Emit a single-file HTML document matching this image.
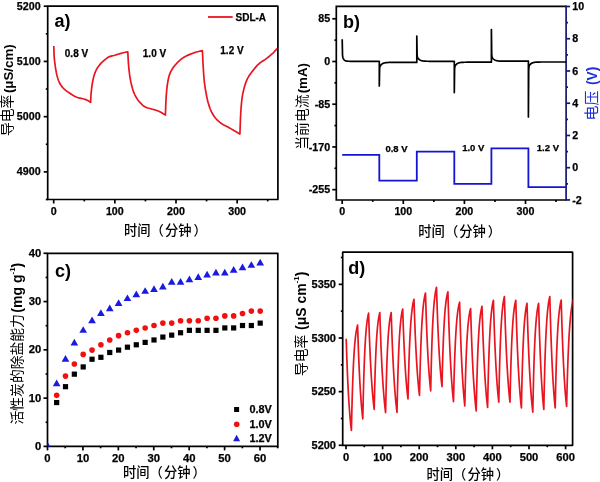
<!DOCTYPE html>
<html><head><meta charset="utf-8"><style>
html,body{margin:0;padding:0;background:#fff;}
svg{display:block;}
.tl{font-family:'Liberation Sans', Arial, sans-serif;font-weight:bold;fill:#000;stroke:#000;stroke-width:0.25px;}
.pl{font-family:'Liberation Sans', Arial, sans-serif;font-weight:bold;font-size:18px;fill:#000;}
.cjk{font-family:'Liberation Sans', 'Noto Sans CJK SC', sans-serif;font-weight:500;}
.b{font-family:'Liberation Sans', Arial, sans-serif;font-weight:bold;}
</style></head><body>
<svg width="600" height="482" viewBox="0 0 600 482">
<rect width="600" height="482" fill="#fff"/>
<rect x="47.7" y="6.2" width="230.2" height="193.3" fill="none" stroke="#000" stroke-width="1.7" stroke-linejoin="round"/>
<line x1="53.7" y1="199.5" x2="53.7" y2="203.5" stroke="#000" stroke-width="1.7"/>
<line x1="114.85" y1="199.5" x2="114.85" y2="203.5" stroke="#000" stroke-width="1.7"/>
<line x1="176" y1="199.5" x2="176" y2="203.5" stroke="#000" stroke-width="1.7"/>
<line x1="237.15" y1="199.5" x2="237.15" y2="203.5" stroke="#000" stroke-width="1.7"/>
<line x1="84.28" y1="199.5" x2="84.28" y2="201.4" stroke="#000" stroke-width="1.7"/>
<line x1="145.43" y1="199.5" x2="145.43" y2="201.4" stroke="#000" stroke-width="1.7"/>
<line x1="206.57" y1="199.5" x2="206.57" y2="201.4" stroke="#000" stroke-width="1.7"/>
<line x1="267.73" y1="199.5" x2="267.73" y2="201.4" stroke="#000" stroke-width="1.7"/>
<text x="53.7" y="214.6" text-anchor="middle" class="tl" style="font-size:10.7px">0</text>
<text x="114.85" y="214.6" text-anchor="middle" class="tl" style="font-size:10.7px">100</text>
<text x="176" y="214.6" text-anchor="middle" class="tl" style="font-size:10.7px">200</text>
<text x="237.15" y="214.6" text-anchor="middle" class="tl" style="font-size:10.7px">300</text>
<line x1="47.7" y1="6.2" x2="43.7" y2="6.2" stroke="#000" stroke-width="1.7"/>
<line x1="47.7" y1="61.43" x2="43.7" y2="61.43" stroke="#000" stroke-width="1.7"/>
<line x1="47.7" y1="116.66" x2="43.7" y2="116.66" stroke="#000" stroke-width="1.7"/>
<line x1="47.7" y1="171.89" x2="43.7" y2="171.89" stroke="#000" stroke-width="1.7"/>
<line x1="47.7" y1="33.82" x2="45.8" y2="33.82" stroke="#000" stroke-width="1.7"/>
<line x1="47.7" y1="89.05" x2="45.8" y2="89.05" stroke="#000" stroke-width="1.7"/>
<line x1="47.7" y1="144.28" x2="45.8" y2="144.28" stroke="#000" stroke-width="1.7"/>
<line x1="47.7" y1="199.5" x2="45.8" y2="199.5" stroke="#000" stroke-width="1.7"/>
<text x="40.6" y="9.8" text-anchor="end" class="tl" style="font-size:10.7px">5200</text>
<text x="40.6" y="65.03" text-anchor="end" class="tl" style="font-size:10.7px">5100</text>
<text x="40.6" y="120.26" text-anchor="end" class="tl" style="font-size:10.7px">5000</text>
<text x="40.6" y="175.49" text-anchor="end" class="tl" style="font-size:10.7px">4900</text>
<path d="M53.8,46 L53.85,47.57 L53.89,49.13 L53.93,50.7 L53.98,52.27 L54.03,53.84 L54.1,55.4 L54.19,56.87 L54.32,58.34 L54.47,59.81 L54.63,61.27 L54.81,62.74 L55,64.2 L55.22,65.89 L55.46,67.59 L55.73,69.28 L56.02,70.97 L56.34,72.64 L56.7,74.3 L57.06,75.79 L57.47,77.28 L57.92,78.77 L58.43,80.22 L58.99,81.64 L59.6,83 L60.17,84.06 L60.82,85.1 L61.55,86.12 L62.34,87.1 L63.16,88.03 L64,88.9 L64.86,89.7 L65.79,90.46 L66.77,91.18 L67.77,91.87 L68.79,92.54 L69.8,93.2 L70.96,93.96 L72.13,94.73 L73.31,95.48 L74.52,96.17 L75.75,96.79 L77,97.3 L77.95,97.6 L78.93,97.86 L79.92,98.09 L80.92,98.31 L81.92,98.54 L82.9,98.8 L83.63,99.01 L84.36,99.22 L85.09,99.43 L85.81,99.66 L86.52,99.92 L87.2,100.2 L87.79,100.5 L88.36,100.85 L88.93,101.23 L89.48,101.62 L90.04,102.02 L90.6,102.4 L90.6,102.4 L90.66,101.13 L90.72,99.87 L90.78,98.6 L90.85,97.33 L90.92,96.06 L91,94.8 L91.13,93.13 L91.28,91.46 L91.46,89.79 L91.65,88.12 L91.87,86.46 L92.1,84.8 L92.32,83.41 L92.56,82.01 L92.83,80.62 L93.12,79.23 L93.45,77.86 L93.8,76.5 L94.13,75.37 L94.49,74.25 L94.9,73.13 L95.33,72.03 L95.8,70.95 L96.3,69.9 L96.76,69.03 L97.27,68.16 L97.81,67.31 L98.39,66.48 L98.99,65.68 L99.6,64.9 L100.23,64.15 L100.9,63.42 L101.6,62.7 L102.32,62.01 L103.05,61.34 L103.8,60.7 L104.71,59.93 L105.63,59.15 L106.58,58.39 L107.56,57.69 L108.56,57.08 L109.6,56.6 L110.39,56.33 L111.21,56.1 L112.05,55.9 L112.91,55.71 L113.76,55.52 L114.6,55.3 L115.7,54.98 L116.8,54.64 L117.9,54.28 L118.99,53.94 L120.09,53.61 L121.2,53.3 L122.29,53.03 L123.39,52.77 L124.49,52.53 L125.6,52.29 L126.7,52.05 L127.8,51.8 L127.8,51.8 L127.9,53.65 L127.99,55.5 L128.08,57.35 L128.17,59.2 L128.28,61.05 L128.4,62.9 L128.56,64.97 L128.74,67.04 L128.95,69.11 L129.18,71.18 L129.43,73.24 L129.7,75.3 L130.01,77.37 L130.36,79.44 L130.75,81.5 L131.19,83.56 L131.67,85.59 L132.2,87.6 L132.65,89.11 L133.16,90.61 L133.72,92.1 L134.34,93.57 L135,95.01 L135.7,96.4 L136.31,97.5 L136.98,98.58 L137.7,99.64 L138.47,100.68 L139.27,101.66 L140.1,102.6 L140.88,103.43 L141.72,104.25 L142.59,105.05 L143.49,105.79 L144.43,106.45 L145.4,107 L146.22,107.37 L147.08,107.7 L147.98,108 L148.89,108.27 L149.8,108.54 L150.7,108.8 L151.58,109.05 L152.47,109.27 L153.36,109.49 L154.25,109.7 L155.13,109.94 L156,110.2 L156.75,110.45 L157.49,110.73 L158.23,111.02 L158.96,111.34 L159.69,111.66 L160.4,112 L161.26,112.45 L162.1,112.93 L162.92,113.44 L163.75,113.97 L164.57,114.49 L165.4,115 L165.4,115 L165.51,112.2 L165.61,109.4 L165.72,106.6 L165.83,103.8 L165.95,101 L166.1,98.2 L166.23,96.15 L166.38,94.09 L166.55,92.04 L166.74,89.98 L166.96,87.94 L167.2,85.9 L167.44,84.11 L167.72,82.32 L168.04,80.53 L168.41,78.75 L168.83,77.01 L169.3,75.3 L169.72,74.07 L170.22,72.85 L170.8,71.64 L171.44,70.46 L172.11,69.31 L172.8,68.2 L173.56,67.09 L174.38,66.02 L175.27,64.97 L176.19,63.95 L177.14,62.96 L178.1,62 L178.92,61.21 L179.77,60.42 L180.65,59.66 L181.54,58.92 L182.46,58.23 L183.4,57.6 L184.51,56.93 L185.67,56.3 L186.86,55.7 L188.06,55.14 L189.28,54.6 L190.5,54.1 L191.5,53.71 L192.5,53.33 L193.52,52.97 L194.54,52.63 L195.57,52.3 L196.6,52 L197.56,51.74 L198.52,51.5 L199.49,51.27 L200.46,51.05 L201.43,50.83 L202.4,50.6 L202.4,50.6 L202.51,52.98 L202.62,55.37 L202.74,57.75 L202.85,60.13 L202.97,62.52 L203.1,64.9 L203.24,67.32 L203.38,69.74 L203.53,72.16 L203.7,74.58 L203.89,76.99 L204.1,79.4 L204.35,81.83 L204.65,84.25 L204.99,86.68 L205.36,89.09 L205.77,91.5 L206.2,93.9 L206.61,96.01 L207.05,98.12 L207.53,100.23 L208.07,102.32 L208.66,104.38 L209.3,106.4 L209.96,108.21 L210.71,110.02 L211.55,111.81 L212.47,113.55 L213.45,115.22 L214.5,116.8 L215.36,117.94 L216.32,119.05 L217.35,120.13 L218.44,121.15 L219.56,122.11 L220.7,123 L221.83,123.77 L223.02,124.47 L224.26,125.14 L225.52,125.78 L226.77,126.43 L228,127.1 L229.04,127.69 L230.07,128.29 L231.1,128.89 L232.13,129.5 L233.17,130.1 L234.2,130.7 L235.15,131.25 L236.1,131.8 L237.05,132.35 L238,132.9 L238.95,133.45 L239.9,134 L239.9,134 L240.03,130.62 L240.14,127.23 L240.26,123.85 L240.39,120.46 L240.53,117.08 L240.7,113.7 L240.85,111.18 L241.02,108.65 L241.22,106.13 L241.45,103.61 L241.71,101.1 L242,98.6 L242.26,96.79 L242.57,94.97 L242.92,93.16 L243.32,91.36 L243.75,89.57 L244.2,87.8 L244.6,86.34 L245.04,84.87 L245.52,83.41 L246.04,81.98 L246.6,80.57 L247.2,79.2 L247.88,77.87 L248.65,76.57 L249.49,75.3 L250.38,74.05 L251.29,72.81 L252.2,71.6 L253.2,70.27 L254.23,68.93 L255.29,67.62 L256.38,66.35 L257.52,65.14 L258.7,64 L259.86,63.04 L261.09,62.15 L262.37,61.3 L263.67,60.45 L264.96,59.6 L266.2,58.7 L267.31,57.84 L268.42,56.97 L269.52,56.08 L270.61,55.18 L271.67,54.25 L272.7,53.3 L273.48,52.54 L274.24,51.75 L274.98,50.94 L275.72,50.12 L276.46,49.31 L277.2,48.5" fill="none" stroke="#ea1420" stroke-width="1.7" stroke-linejoin="round"/>
<line x1="208" y1="17" x2="232.7" y2="17" stroke="#ea1420" stroke-width="1.8"/>
<text x="235.5" y="20.8" class="tl" style="font-size:10px">SDL-A</text>
<text x="54.5" y="27.2" class="pl">a)</text>
<text x="64.8" y="57" class="tl" style="font-size:10px">0.8 V</text>
<text x="142.8" y="57" class="tl" style="font-size:10px">1.0 V</text>
<text x="220.3" y="54" class="tl" style="font-size:10px">1.2 V</text>
<text x="124" y="235.3" class="cjk" style="font-size:13.3px">时间（<tspan dx="1">分</tspan>钟<tspan dx="1.9">）</tspan></text>
<text transform="translate(7.8,136) rotate(-90)" x="0" y="0" dominant-baseline="central" class="cjk" style="font-size:13.8px;font-weight:400" fill="#000">导电率<tspan class="b" dx="1.5" dy="0" style="font-size:13.3px">(μS/cm)</tspan></text>
<path d="M566.1,6.4 L336.3,6.4 L336.3,200 L566.1,200" fill="none" stroke="#000" stroke-width="1.7"/>
<line x1="342.2" y1="200" x2="342.2" y2="204" stroke="#000" stroke-width="1.7"/>
<line x1="403.3" y1="200" x2="403.3" y2="204" stroke="#000" stroke-width="1.7"/>
<line x1="464.4" y1="200" x2="464.4" y2="204" stroke="#000" stroke-width="1.7"/>
<line x1="525.5" y1="200" x2="525.5" y2="204" stroke="#000" stroke-width="1.7"/>
<line x1="372.75" y1="200" x2="372.75" y2="201.9" stroke="#000" stroke-width="1.7"/>
<line x1="433.85" y1="200" x2="433.85" y2="201.9" stroke="#000" stroke-width="1.7"/>
<line x1="494.95" y1="200" x2="494.95" y2="201.9" stroke="#000" stroke-width="1.7"/>
<line x1="556.05" y1="200" x2="556.05" y2="201.9" stroke="#000" stroke-width="1.7"/>
<text x="342.2" y="215.2" text-anchor="middle" class="tl" style="font-size:10.7px">0</text>
<text x="403.3" y="215.2" text-anchor="middle" class="tl" style="font-size:10.7px">100</text>
<text x="464.4" y="215.2" text-anchor="middle" class="tl" style="font-size:10.7px">200</text>
<text x="525.5" y="215.2" text-anchor="middle" class="tl" style="font-size:10.7px">300</text>
<line x1="336.3" y1="18.78" x2="332.3" y2="18.78" stroke="#000" stroke-width="1.7"/>
<line x1="336.3" y1="61.5" x2="332.3" y2="61.5" stroke="#000" stroke-width="1.7"/>
<line x1="336.3" y1="104.22" x2="332.3" y2="104.22" stroke="#000" stroke-width="1.7"/>
<line x1="336.3" y1="146.94" x2="332.3" y2="146.94" stroke="#000" stroke-width="1.7"/>
<line x1="336.3" y1="189.66" x2="332.3" y2="189.66" stroke="#000" stroke-width="1.7"/>
<line x1="336.3" y1="40.14" x2="334.4" y2="40.14" stroke="#000" stroke-width="1.7"/>
<line x1="336.3" y1="82.86" x2="334.4" y2="82.86" stroke="#000" stroke-width="1.7"/>
<line x1="336.3" y1="125.58" x2="334.4" y2="125.58" stroke="#000" stroke-width="1.7"/>
<line x1="336.3" y1="168.3" x2="334.4" y2="168.3" stroke="#000" stroke-width="1.7"/>
<text x="330.2" y="22.38" text-anchor="end" class="tl" style="font-size:10.7px">85</text>
<text x="330.2" y="65.1" text-anchor="end" class="tl" style="font-size:10.7px">0</text>
<text x="330.2" y="107.82" text-anchor="end" class="tl" style="font-size:10.7px">-85</text>
<text x="330.2" y="150.54" text-anchor="end" class="tl" style="font-size:10.7px">-170</text>
<text x="330.2" y="193.26" text-anchor="end" class="tl" style="font-size:10.7px">-255</text>
<line x1="566.1" y1="5.6" x2="566.1" y2="200.8" stroke="#16166e" stroke-width="1.7"/>
<line x1="566.1" y1="6.5" x2="570.1" y2="6.5" stroke="#16166e" stroke-width="1.7"/>
<line x1="566.1" y1="38.74" x2="570.1" y2="38.74" stroke="#16166e" stroke-width="1.7"/>
<line x1="566.1" y1="70.98" x2="570.1" y2="70.98" stroke="#16166e" stroke-width="1.7"/>
<line x1="566.1" y1="103.22" x2="570.1" y2="103.22" stroke="#16166e" stroke-width="1.7"/>
<line x1="566.1" y1="135.46" x2="570.1" y2="135.46" stroke="#16166e" stroke-width="1.7"/>
<line x1="566.1" y1="167.7" x2="570.1" y2="167.7" stroke="#16166e" stroke-width="1.7"/>
<line x1="566.1" y1="199.94" x2="570.1" y2="199.94" stroke="#16166e" stroke-width="1.7"/>
<line x1="566.1" y1="22.62" x2="568" y2="22.62" stroke="#16166e" stroke-width="1.7"/>
<line x1="566.1" y1="54.86" x2="568" y2="54.86" stroke="#16166e" stroke-width="1.7"/>
<line x1="566.1" y1="87.1" x2="568" y2="87.1" stroke="#16166e" stroke-width="1.7"/>
<line x1="566.1" y1="119.34" x2="568" y2="119.34" stroke="#16166e" stroke-width="1.7"/>
<line x1="566.1" y1="151.58" x2="568" y2="151.58" stroke="#16166e" stroke-width="1.7"/>
<line x1="566.1" y1="183.82" x2="568" y2="183.82" stroke="#16166e" stroke-width="1.7"/>
<text x="572.3" y="10.1" text-anchor="start" class="tl" style="font-size:10.7px">10</text>
<text x="572.3" y="42.34" text-anchor="start" class="tl" style="font-size:10.7px">8</text>
<text x="572.3" y="74.58" text-anchor="start" class="tl" style="font-size:10.7px">6</text>
<text x="572.3" y="106.82" text-anchor="start" class="tl" style="font-size:10.7px">4</text>
<text x="572.3" y="139.06" text-anchor="start" class="tl" style="font-size:10.7px">2</text>
<text x="572.3" y="171.3" text-anchor="start" class="tl" style="font-size:10.7px">0</text>
<text x="572.3" y="203.54" text-anchor="start" class="tl" style="font-size:10.7px">-2</text>
<path d="M342.2,39.3 L342.2,39.3 L342.51,55.03 L342.82,57.19 L343.14,58.13 L343.45,58.81 L343.76,59.34 L344.07,59.76 L344.38,60.09 L344.69,60.35 L345.01,60.55 L345.32,60.71 L345.63,60.84 L345.94,60.93 L346.25,61.01 L346.56,61.07 L346.88,61.12 L347.19,61.16 L347.5,61.19 L347.81,61.21 L348.12,61.23 L348.44,61.25 L348.75,61.26 L349.06,61.27 L349.37,61.27 L349.68,61.28 L349.99,61.28 L350.31,61.29 L350.62,61.29 L350.93,61.29 L351.24,61.29 L351.55,61.3 L351.86,61.3 L352.18,61.3 L352.49,61.3 L352.8,61.3 L353.11,61.3 L353.42,61.3 L353.74,61.3 L354.05,61.3 L354.36,61.3 L354.67,61.3 L354.98,61.3 L355.29,61.3 L355.61,61.3 L355.92,61.3 L356.23,61.3 L356.54,61.3 L356.85,61.3 L357.16,61.3 L357.48,61.3 L357.79,61.3 L358.1,61.3 L358.41,61.3 L358.72,61.3 L359.04,61.3 L359.35,61.3 L359.66,61.3 L359.97,61.3 L360.28,61.3 L360.59,61.3 L360.91,61.3 L361.22,61.3 L361.53,61.3 L361.84,61.3 L362.15,61.3 L362.46,61.3 L362.78,61.3 L363.09,61.3 L363.4,61.3 L363.71,61.3 L364.02,61.3 L364.34,61.3 L364.65,61.3 L364.96,61.3 L365.27,61.3 L365.58,61.3 L365.89,61.3 L366.21,61.3 L366.52,61.3 L366.83,61.3 L367.14,61.3 L367.45,61.3 L367.76,61.3 L368.08,61.3 L368.39,61.3 L368.7,61.3 L369.01,61.3 L369.32,61.3 L369.64,61.3 L369.95,61.3 L370.26,61.3 L370.57,61.3 L370.88,61.3 L371.19,61.3 L371.51,61.3 L371.82,61.3 L372.13,61.3 L372.44,61.3 L372.75,61.3 L373.06,61.3 L373.38,61.3 L373.69,61.3 L374,61.3 L374.31,61.3 L374.62,61.3 L374.94,61.3 L375.25,61.3 L375.56,61.3 L375.87,61.3 L376.18,61.3 L376.49,61.3 L376.81,61.3 L377.12,61.3 L377.43,61.3 L377.74,61.3 L378.05,61.3 L378.36,61.3 L378.68,61.3 L378.99,61.3 L379.3,61.3 L379.3,62.2 L379.3,86 L379.3,86 L379.62,68.48 L379.93,66.62 L380.25,65.99 L380.56,65.5 L380.88,65.09 L381.19,64.73 L381.51,64.42 L381.82,64.15 L382.14,63.92 L382.45,63.71 L382.77,63.54 L383.08,63.39 L383.4,63.25 L383.71,63.14 L384.03,63.04 L384.34,62.96 L384.66,62.88 L384.97,62.82 L385.29,62.76 L385.6,62.71 L385.92,62.67 L386.23,62.64 L386.55,62.6 L386.86,62.58 L387.18,62.55 L387.49,62.53 L387.81,62.52 L388.12,62.5 L388.44,62.49 L388.75,62.47 L389.07,62.46 L389.38,62.46 L389.7,62.45 L390.01,62.44 L390.33,62.44 L390.64,62.43 L390.96,62.43 L391.27,62.42 L391.59,62.42 L391.91,62.42 L392.22,62.42 L392.54,62.41 L392.85,62.41 L393.17,62.41 L393.48,62.41 L393.8,62.41 L394.11,62.41 L394.43,62.41 L394.74,62.4 L395.06,62.4 L395.37,62.4 L395.69,62.4 L396,62.4 L396.32,62.4 L396.63,62.4 L396.95,62.4 L397.26,62.4 L397.58,62.4 L397.89,62.4 L398.21,62.4 L398.52,62.4 L398.84,62.4 L399.15,62.4 L399.47,62.4 L399.78,62.4 L400.1,62.4 L400.41,62.4 L400.73,62.4 L401.04,62.4 L401.36,62.4 L401.67,62.4 L401.99,62.4 L402.3,62.4 L402.62,62.4 L402.93,62.4 L403.25,62.4 L403.56,62.4 L403.88,62.4 L404.19,62.4 L404.51,62.4 L404.83,62.4 L405.14,62.4 L405.46,62.4 L405.77,62.4 L406.09,62.4 L406.4,62.4 L406.72,62.4 L407.03,62.4 L407.35,62.4 L407.66,62.4 L407.98,62.4 L408.29,62.4 L408.61,62.4 L408.92,62.4 L409.24,62.4 L409.55,62.4 L409.87,62.4 L410.18,62.4 L410.5,62.4 L410.81,62.4 L411.13,62.4 L411.44,62.4 L411.76,62.4 L412.07,62.4 L412.39,62.4 L412.7,62.4 L413.02,62.4 L413.33,62.4 L413.65,62.4 L413.96,62.4 L414.28,62.4 L414.59,62.4 L414.91,62.4 L415.22,62.4 L415.54,62.4 L415.85,62.4 L416.17,62.4 L416.48,62.4 L416.8,62.4 L416.8,62.4 L416.8,36 L416.8,36 L417.12,55.1 L417.43,57.07 L417.75,57.71 L418.06,58.2 L418.38,58.61 L418.69,58.97 L419.01,59.28 L419.32,59.55 L419.64,59.78 L419.95,59.99 L420.27,60.16 L420.58,60.31 L420.9,60.45 L421.21,60.56 L421.53,60.66 L421.84,60.74 L422.16,60.82 L422.47,60.88 L422.79,60.94 L423.1,60.99 L423.42,61.03 L423.73,61.06 L424.05,61.1 L424.36,61.12 L424.68,61.15 L424.99,61.17 L425.31,61.18 L425.62,61.2 L425.94,61.21 L426.25,61.23 L426.57,61.24 L426.88,61.24 L427.2,61.25 L427.51,61.26 L427.83,61.26 L428.14,61.27 L428.46,61.27 L428.77,61.28 L429.09,61.28 L429.41,61.28 L429.72,61.28 L430.04,61.29 L430.35,61.29 L430.67,61.29 L430.98,61.29 L431.3,61.29 L431.61,61.29 L431.93,61.29 L432.24,61.3 L432.56,61.3 L432.87,61.3 L433.19,61.3 L433.5,61.3 L433.82,61.3 L434.13,61.3 L434.45,61.3 L434.76,61.3 L435.08,61.3 L435.39,61.3 L435.71,61.3 L436.02,61.3 L436.34,61.3 L436.65,61.3 L436.97,61.3 L437.28,61.3 L437.6,61.3 L437.91,61.3 L438.23,61.3 L438.54,61.3 L438.86,61.3 L439.17,61.3 L439.49,61.3 L439.8,61.3 L440.12,61.3 L440.43,61.3 L440.75,61.3 L441.06,61.3 L441.38,61.3 L441.69,61.3 L442.01,61.3 L442.33,61.3 L442.64,61.3 L442.96,61.3 L443.27,61.3 L443.59,61.3 L443.9,61.3 L444.22,61.3 L444.53,61.3 L444.85,61.3 L445.16,61.3 L445.48,61.3 L445.79,61.3 L446.11,61.3 L446.42,61.3 L446.74,61.3 L447.05,61.3 L447.37,61.3 L447.68,61.3 L448,61.3 L448.31,61.3 L448.63,61.3 L448.94,61.3 L449.26,61.3 L449.57,61.3 L449.89,61.3 L450.2,61.3 L450.52,61.3 L450.83,61.3 L451.15,61.3 L451.46,61.3 L451.78,61.3 L452.09,61.3 L452.41,61.3 L452.72,61.3 L453.04,61.3 L453.35,61.3 L453.67,61.3 L453.98,61.3 L454.3,61.3 L454.3,61.8 L454.3,92.6 L454.3,92.6 L454.61,68.83 L454.92,66.48 L455.24,65.81 L455.55,65.32 L455.86,64.91 L456.17,64.55 L456.48,64.24 L456.79,63.97 L457.11,63.74 L457.42,63.53 L457.73,63.36 L458.04,63.2 L458.35,63.07 L458.66,62.96 L458.98,62.86 L459.29,62.77 L459.6,62.69 L459.91,62.63 L460.22,62.57 L460.54,62.52 L460.85,62.48 L461.16,62.44 L461.47,62.41 L461.78,62.38 L462.09,62.36 L462.41,62.34 L462.72,62.32 L463.03,62.3 L463.34,62.29 L463.65,62.28 L463.96,62.27 L464.28,62.26 L464.59,62.25 L464.9,62.24 L465.21,62.24 L465.52,62.23 L465.84,62.23 L466.15,62.23 L466.46,62.22 L466.77,62.22 L467.08,62.22 L467.39,62.21 L467.71,62.21 L468.02,62.21 L468.33,62.21 L468.64,62.21 L468.95,62.21 L469.26,62.21 L469.58,62.21 L469.89,62.2 L470.2,62.2 L470.51,62.2 L470.82,62.2 L471.14,62.2 L471.45,62.2 L471.76,62.2 L472.07,62.2 L472.38,62.2 L472.69,62.2 L473.01,62.2 L473.32,62.2 L473.63,62.2 L473.94,62.2 L474.25,62.2 L474.56,62.2 L474.88,62.2 L475.19,62.2 L475.5,62.2 L475.81,62.2 L476.12,62.2 L476.44,62.2 L476.75,62.2 L477.06,62.2 L477.37,62.2 L477.68,62.2 L477.99,62.2 L478.31,62.2 L478.62,62.2 L478.93,62.2 L479.24,62.2 L479.55,62.2 L479.86,62.2 L480.18,62.2 L480.49,62.2 L480.8,62.2 L481.11,62.2 L481.42,62.2 L481.74,62.2 L482.05,62.2 L482.36,62.2 L482.67,62.2 L482.98,62.2 L483.29,62.2 L483.61,62.2 L483.92,62.2 L484.23,62.2 L484.54,62.2 L484.85,62.2 L485.16,62.2 L485.48,62.2 L485.79,62.2 L486.1,62.2 L486.41,62.2 L486.72,62.2 L487.04,62.2 L487.35,62.2 L487.66,62.2 L487.97,62.2 L488.28,62.2 L488.59,62.2 L488.91,62.2 L489.22,62.2 L489.53,62.2 L489.84,62.2 L490.15,62.2 L490.46,62.2 L490.78,62.2 L491.09,62.2 L491.4,62.2 L491.4,62.2 L491.4,29.6 L491.4,29.6 L491.71,54.47 L492.02,56.91 L492.33,57.59 L492.64,58.07 L492.95,58.49 L493.27,58.84 L493.58,59.15 L493.89,59.42 L494.2,59.66 L494.51,59.86 L494.82,60.04 L495.13,60.19 L495.44,60.32 L495.75,60.44 L496.06,60.54 L496.37,60.63 L496.69,60.7 L497,60.77 L497.31,60.82 L497.62,60.87 L497.93,60.92 L498.24,60.95 L498.55,60.99 L498.86,61.01 L499.17,61.04 L499.48,61.06 L499.79,61.08 L500.11,61.09 L500.42,61.11 L500.73,61.12 L501.04,61.13 L501.35,61.14 L501.66,61.15 L501.97,61.15 L502.28,61.16 L502.59,61.17 L502.9,61.17 L503.22,61.17 L503.53,61.18 L503.84,61.18 L504.15,61.18 L504.46,61.19 L504.77,61.19 L505.08,61.19 L505.39,61.19 L505.7,61.19 L506.01,61.19 L506.32,61.19 L506.64,61.19 L506.95,61.2 L507.26,61.2 L507.57,61.2 L507.88,61.2 L508.19,61.2 L508.5,61.2 L508.81,61.2 L509.12,61.2 L509.43,61.2 L509.74,61.2 L510.06,61.2 L510.37,61.2 L510.68,61.2 L510.99,61.2 L511.3,61.2 L511.61,61.2 L511.92,61.2 L512.23,61.2 L512.54,61.2 L512.85,61.2 L513.16,61.2 L513.48,61.2 L513.79,61.2 L514.1,61.2 L514.41,61.2 L514.72,61.2 L515.03,61.2 L515.34,61.2 L515.65,61.2 L515.96,61.2 L516.27,61.2 L516.58,61.2 L516.9,61.2 L517.21,61.2 L517.52,61.2 L517.83,61.2 L518.14,61.2 L518.45,61.2 L518.76,61.2 L519.07,61.2 L519.38,61.2 L519.69,61.2 L520.01,61.2 L520.32,61.2 L520.63,61.2 L520.94,61.2 L521.25,61.2 L521.56,61.2 L521.87,61.2 L522.18,61.2 L522.49,61.2 L522.8,61.2 L523.11,61.2 L523.43,61.2 L523.74,61.2 L524.05,61.2 L524.36,61.2 L524.67,61.2 L524.98,61.2 L525.29,61.2 L525.6,61.2 L525.91,61.2 L526.22,61.2 L526.53,61.2 L526.85,61.2 L527.16,61.2 L527.47,61.2 L527.78,61.2 L528.09,61.2 L528.4,61.2 L528.4,61.4 L528.4,117 L528.4,117 L528.72,70.29 L529.03,66.38 L529.35,65.59 L529.67,65.09 L529.98,64.68 L530.3,64.32 L530.62,64.01 L530.93,63.74 L531.25,63.5 L531.57,63.3 L531.88,63.13 L532.2,62.98 L532.52,62.85 L532.84,62.73 L533.15,62.63 L533.47,62.55 L533.79,62.48 L534.1,62.41 L534.42,62.36 L534.74,62.31 L535.05,62.27 L535.37,62.23 L535.69,62.2 L536,62.17 L536.32,62.15 L536.64,62.13 L536.95,62.11 L537.27,62.1 L537.59,62.08 L537.9,62.07 L538.22,62.06 L538.54,62.05 L538.85,62.05 L539.17,62.04 L539.49,62.04 L539.81,62.03 L540.12,62.03 L540.44,62.02 L540.76,62.02 L541.07,62.02 L541.39,62.02 L541.71,62.01 L542.02,62.01 L542.34,62.01 L542.66,62.01 L542.97,62.01 L543.29,62.01 L543.61,62.01 L543.92,62 L544.24,62 L544.56,62 L544.87,62 L545.19,62 L545.51,62 L545.82,62 L546.14,62 L546.46,62 L546.77,62 L547.09,62 L547.41,62 L547.73,62 L548.04,62 L548.36,62 L548.68,62 L548.99,62 L549.31,62 L549.63,62 L549.94,62 L550.26,62 L550.58,62 L550.89,62 L551.21,62 L551.53,62 L551.84,62 L552.16,62 L552.48,62 L552.79,62 L553.11,62 L553.43,62 L553.74,62 L554.06,62 L554.38,62 L554.69,62 L555.01,62 L555.33,62 L555.65,62 L555.96,62 L556.28,62 L556.6,62 L556.91,62 L557.23,62 L557.55,62 L557.86,62 L558.18,62 L558.5,62 L558.81,62 L559.13,62 L559.45,62 L559.76,62 L560.08,62 L560.4,62 L560.71,62 L561.03,62 L561.35,62 L561.66,62 L561.98,62 L562.3,62 L562.62,62 L562.93,62 L563.25,62 L563.57,62 L563.88,62 L564.2,62 L564.52,62 L564.83,62 L565.15,62 L565.47,62 L565.78,62 L566.1,62" fill="none" stroke="#000" stroke-width="1.7" stroke-linejoin="round"/>
<path d="M342.2,154.8 L379.3,154.8 L379.3,180.6 L416.8,180.6 L416.8,151.58 L454.3,151.58 L454.3,183.82 L491.4,183.82 L491.4,148.36 L528.4,148.36 L528.4,187.04 L566.1,187.04" fill="none" stroke="#1414d2" stroke-width="1.8" stroke-linejoin="miter"/>
<text x="343" y="27.5" class="pl">b)</text>
<text x="385.4" y="151.6" class="tl" style="font-size:9.5px">0.8 V</text>
<text x="462.2" y="151.2" class="tl" style="font-size:9.5px">1.0 V</text>
<text x="536.8" y="151.2" class="tl" style="font-size:9.5px">1.2 V</text>
<text x="418.3" y="236.1" class="cjk" style="font-size:13.3px">时间（<tspan dx="1">分</tspan>钟<tspan dx="1.9">）</tspan></text>
<text transform="translate(302,149.7) rotate(-90)" x="0" y="0" dominant-baseline="central" class="cjk" style="font-size:13.8px;font-weight:400" fill="#000">当前电流<tspan class="b" dx="1.2" dy="0" style="font-size:13.3px">(mA)</tspan></text>
<text transform="translate(591.5,120.5) rotate(-90)" x="0" y="0" dominant-baseline="central" class="cjk" style="font-size:15px;font-weight:400" fill="#2030d8">电压<tspan class="b" dx="5.5" dy="0" style="font-size:13.8px">(V)</tspan></text>
<rect x="47.5" y="253.3" width="230.3" height="193.1" fill="none" stroke="#000" stroke-width="1.7" stroke-linejoin="round"/>
<line x1="47.5" y1="446.4" x2="47.5" y2="450.4" stroke="#000" stroke-width="1.7"/>
<line x1="82.92" y1="446.4" x2="82.92" y2="450.4" stroke="#000" stroke-width="1.7"/>
<line x1="118.34" y1="446.4" x2="118.34" y2="450.4" stroke="#000" stroke-width="1.7"/>
<line x1="153.76" y1="446.4" x2="153.76" y2="450.4" stroke="#000" stroke-width="1.7"/>
<line x1="189.18" y1="446.4" x2="189.18" y2="450.4" stroke="#000" stroke-width="1.7"/>
<line x1="224.6" y1="446.4" x2="224.6" y2="450.4" stroke="#000" stroke-width="1.7"/>
<line x1="260.02" y1="446.4" x2="260.02" y2="450.4" stroke="#000" stroke-width="1.7"/>
<line x1="65.21" y1="446.4" x2="65.21" y2="448.3" stroke="#000" stroke-width="1.7"/>
<line x1="100.63" y1="446.4" x2="100.63" y2="448.3" stroke="#000" stroke-width="1.7"/>
<line x1="136.05" y1="446.4" x2="136.05" y2="448.3" stroke="#000" stroke-width="1.7"/>
<line x1="171.47" y1="446.4" x2="171.47" y2="448.3" stroke="#000" stroke-width="1.7"/>
<line x1="206.89" y1="446.4" x2="206.89" y2="448.3" stroke="#000" stroke-width="1.7"/>
<line x1="242.31" y1="446.4" x2="242.31" y2="448.3" stroke="#000" stroke-width="1.7"/>
<line x1="277.73" y1="446.4" x2="277.73" y2="448.3" stroke="#000" stroke-width="1.7"/>
<text x="47.5" y="461.6" text-anchor="middle" class="tl" style="font-size:11.3px">0</text>
<text x="82.92" y="461.6" text-anchor="middle" class="tl" style="font-size:11.3px">10</text>
<text x="118.34" y="461.6" text-anchor="middle" class="tl" style="font-size:11.3px">20</text>
<text x="153.76" y="461.6" text-anchor="middle" class="tl" style="font-size:11.3px">30</text>
<text x="189.18" y="461.6" text-anchor="middle" class="tl" style="font-size:11.3px">40</text>
<text x="224.6" y="461.6" text-anchor="middle" class="tl" style="font-size:11.3px">50</text>
<text x="260.02" y="461.6" text-anchor="middle" class="tl" style="font-size:11.3px">60</text>
<line x1="47.5" y1="446.4" x2="43.5" y2="446.4" stroke="#000" stroke-width="1.7"/>
<line x1="47.5" y1="398.12" x2="43.5" y2="398.12" stroke="#000" stroke-width="1.7"/>
<line x1="47.5" y1="349.84" x2="43.5" y2="349.84" stroke="#000" stroke-width="1.7"/>
<line x1="47.5" y1="301.56" x2="43.5" y2="301.56" stroke="#000" stroke-width="1.7"/>
<line x1="47.5" y1="253.28" x2="43.5" y2="253.28" stroke="#000" stroke-width="1.7"/>
<line x1="47.5" y1="422.26" x2="45.6" y2="422.26" stroke="#000" stroke-width="1.7"/>
<line x1="47.5" y1="373.98" x2="45.6" y2="373.98" stroke="#000" stroke-width="1.7"/>
<line x1="47.5" y1="325.7" x2="45.6" y2="325.7" stroke="#000" stroke-width="1.7"/>
<line x1="47.5" y1="277.42" x2="45.6" y2="277.42" stroke="#000" stroke-width="1.7"/>
<text x="41.3" y="449.9" text-anchor="end" class="tl" style="font-size:11.2px">0</text>
<text x="41.3" y="401.62" text-anchor="end" class="tl" style="font-size:11.2px">10</text>
<text x="41.3" y="353.34" text-anchor="end" class="tl" style="font-size:11.2px">20</text>
<text x="41.3" y="305.06" text-anchor="end" class="tl" style="font-size:11.2px">30</text>
<text x="41.3" y="256.78" text-anchor="end" class="tl" style="font-size:11.2px">40</text>
<clipPath id="clipc"><rect x="47.5" y="253.3" width="230.3" height="193.1"/></clipPath>
<rect x="54.05" y="399.96" width="5.2" height="5.2" fill="#000"/>
<rect x="62.9" y="384.08" width="5.2" height="5.2" fill="#000"/>
<rect x="71.75" y="371.56" width="5.2" height="5.2" fill="#000"/>
<rect x="80.6" y="364.33" width="5.2" height="5.2" fill="#000"/>
<rect x="89.45" y="356.63" width="5.2" height="5.2" fill="#000"/>
<rect x="98.3" y="354.7" width="5.2" height="5.2" fill="#000"/>
<rect x="107.15" y="349.89" width="5.2" height="5.2" fill="#000"/>
<rect x="116" y="347.48" width="5.2" height="5.2" fill="#000"/>
<rect x="124.85" y="344.59" width="5.2" height="5.2" fill="#000"/>
<rect x="133.7" y="342.18" width="5.2" height="5.2" fill="#000"/>
<rect x="142.55" y="339.78" width="5.2" height="5.2" fill="#000"/>
<rect x="151.4" y="337.37" width="5.2" height="5.2" fill="#000"/>
<rect x="160.25" y="334.48" width="5.2" height="5.2" fill="#000"/>
<rect x="169.1" y="332.55" width="5.2" height="5.2" fill="#000"/>
<rect x="177.95" y="330.15" width="5.2" height="5.2" fill="#000"/>
<rect x="186.8" y="327.74" width="5.2" height="5.2" fill="#000"/>
<rect x="195.65" y="327.74" width="5.2" height="5.2" fill="#000"/>
<rect x="204.5" y="327.74" width="5.2" height="5.2" fill="#000"/>
<rect x="213.35" y="327.74" width="5.2" height="5.2" fill="#000"/>
<rect x="222.2" y="325.33" width="5.2" height="5.2" fill="#000"/>
<rect x="231.05" y="325.33" width="5.2" height="5.2" fill="#000"/>
<rect x="239.9" y="322.92" width="5.2" height="5.2" fill="#000"/>
<rect x="248.75" y="322.92" width="5.2" height="5.2" fill="#000"/>
<rect x="257.6" y="320.52" width="5.2" height="5.2" fill="#000"/>
<circle cx="56.65" cy="395.34" r="2.8" fill="#f01010"/>
<circle cx="65.5" cy="376.08" r="2.8" fill="#f01010"/>
<circle cx="74.35" cy="364.04" r="2.8" fill="#f01010"/>
<circle cx="83.2" cy="354.41" r="2.8" fill="#f01010"/>
<circle cx="92.05" cy="350.08" r="2.8" fill="#f01010"/>
<circle cx="100.9" cy="344.78" r="2.8" fill="#f01010"/>
<circle cx="109.75" cy="339.97" r="2.8" fill="#f01010"/>
<circle cx="118.6" cy="335.64" r="2.8" fill="#f01010"/>
<circle cx="127.45" cy="332.75" r="2.8" fill="#f01010"/>
<circle cx="136.3" cy="330.34" r="2.8" fill="#f01010"/>
<circle cx="145.15" cy="327.93" r="2.8" fill="#f01010"/>
<circle cx="154" cy="325.52" r="2.8" fill="#f01010"/>
<circle cx="162.85" cy="323.12" r="2.8" fill="#f01010"/>
<circle cx="171.7" cy="323.12" r="2.8" fill="#f01010"/>
<circle cx="180.55" cy="320.71" r="2.8" fill="#f01010"/>
<circle cx="189.4" cy="320.71" r="2.8" fill="#f01010"/>
<circle cx="198.25" cy="320.71" r="2.8" fill="#f01010"/>
<circle cx="207.1" cy="318.3" r="2.8" fill="#f01010"/>
<circle cx="215.95" cy="318.3" r="2.8" fill="#f01010"/>
<circle cx="224.8" cy="315.89" r="2.8" fill="#f01010"/>
<circle cx="233.65" cy="315.89" r="2.8" fill="#f01010"/>
<circle cx="242.5" cy="313.49" r="2.8" fill="#f01010"/>
<circle cx="251.35" cy="311.08" r="2.8" fill="#f01010"/>
<circle cx="260.2" cy="311.08" r="2.8" fill="#f01010"/>
<path d="M56.65,379.62 L60.5,386.32 L52.8,386.32Z" fill="#1a1ae0"/>
<path d="M65.5,355.06 L69.35,361.76 L61.65,361.76Z" fill="#1a1ae0"/>
<path d="M74.35,338.69 L78.2,345.39 L70.5,345.39Z" fill="#1a1ae0"/>
<path d="M83.2,326.17 L87.05,332.87 L79.35,332.87Z" fill="#1a1ae0"/>
<path d="M92.05,316.54 L95.9,323.24 L88.2,323.24Z" fill="#1a1ae0"/>
<path d="M100.9,309.32 L104.75,316.02 L97.05,316.02Z" fill="#1a1ae0"/>
<path d="M109.75,304.51 L113.6,311.21 L105.9,311.21Z" fill="#1a1ae0"/>
<path d="M118.6,299.21 L122.45,305.91 L114.75,305.91Z" fill="#1a1ae0"/>
<path d="M127.45,294.39 L131.3,301.09 L123.6,301.09Z" fill="#1a1ae0"/>
<path d="M136.3,290.54 L140.15,297.24 L132.45,297.24Z" fill="#1a1ae0"/>
<path d="M145.15,287.17 L149,293.87 L141.3,293.87Z" fill="#1a1ae0"/>
<path d="M154,285.25 L157.85,291.95 L150.15,291.95Z" fill="#1a1ae0"/>
<path d="M162.85,282.84 L166.7,289.54 L159,289.54Z" fill="#1a1ae0"/>
<path d="M171.7,278.02 L175.55,284.72 L167.85,284.72Z" fill="#1a1ae0"/>
<path d="M180.55,278.02 L184.4,284.72 L176.7,284.72Z" fill="#1a1ae0"/>
<path d="M189.4,275.62 L193.25,282.32 L185.55,282.32Z" fill="#1a1ae0"/>
<path d="M198.25,273.21 L202.1,279.91 L194.4,279.91Z" fill="#1a1ae0"/>
<path d="M207.1,270.8 L210.95,277.5 L203.25,277.5Z" fill="#1a1ae0"/>
<path d="M215.95,268.87 L219.8,275.57 L212.1,275.57Z" fill="#1a1ae0"/>
<path d="M224.8,268.87 L228.65,275.57 L220.95,275.57Z" fill="#1a1ae0"/>
<path d="M233.65,265.99 L237.5,272.69 L229.8,272.69Z" fill="#1a1ae0"/>
<path d="M242.5,263.58 L246.35,270.28 L238.65,270.28Z" fill="#1a1ae0"/>
<path d="M251.35,261.17 L255.2,267.87 L247.5,267.87Z" fill="#1a1ae0"/>
<path d="M260.2,258.76 L264.05,265.46 L256.35,265.46Z" fill="#1a1ae0"/>
<g clip-path="url(#clipc)">
<path d="M47.8,442.21 L51.65,448.91 L43.95,448.91Z" fill="#1a1ae0"/>
</g>
<rect x="234.1" y="407" width="5" height="5" fill="#000"/>
<circle cx="236.7" cy="424.3" r="2.8" fill="#f01010"/>
<path d="M236.6,434.84 L240.1,441.13 L233.1,441.13Z" fill="#1a1ae0"/>
<text x="249.4" y="413.2" class="tl" style="font-size:10.9px">0.8V</text>
<text x="249.4" y="427.8" class="tl" style="font-size:10.9px">1.0V</text>
<text x="249.4" y="442.2" class="tl" style="font-size:10.9px">1.2V</text>
<text x="55" y="277" class="pl">c)</text>
<text x="123" y="477.3" class="cjk" style="font-size:13.3px">时间（<tspan dx="1">分</tspan>钟<tspan dx="1.9">）</tspan></text>
<text transform="translate(17.1,424.5) rotate(-90)" x="0" y="0" dominant-baseline="central" class="cjk" style="font-size:13.8px;font-weight:400" fill="#000">活性炭的除盐能力<tspan class="b" dx="1.5" dy="0" style="font-size:14px">(mg g<tspan dy="-5.5" style="font-size:8px">-1</tspan><tspan dy="5.5">)</tspan></tspan></text>
<rect x="342.7" y="252.2" width="229.9" height="193.1" fill="none" stroke="#000" stroke-width="1.7" stroke-linejoin="round"/>
<line x1="346" y1="445.3" x2="346" y2="449.3" stroke="#000" stroke-width="1.7"/>
<line x1="382.6" y1="445.3" x2="382.6" y2="449.3" stroke="#000" stroke-width="1.7"/>
<line x1="419.2" y1="445.3" x2="419.2" y2="449.3" stroke="#000" stroke-width="1.7"/>
<line x1="455.8" y1="445.3" x2="455.8" y2="449.3" stroke="#000" stroke-width="1.7"/>
<line x1="492.4" y1="445.3" x2="492.4" y2="449.3" stroke="#000" stroke-width="1.7"/>
<line x1="529" y1="445.3" x2="529" y2="449.3" stroke="#000" stroke-width="1.7"/>
<line x1="565.6" y1="445.3" x2="565.6" y2="449.3" stroke="#000" stroke-width="1.7"/>
<line x1="364.3" y1="445.3" x2="364.3" y2="447.2" stroke="#000" stroke-width="1.7"/>
<line x1="400.9" y1="445.3" x2="400.9" y2="447.2" stroke="#000" stroke-width="1.7"/>
<line x1="437.5" y1="445.3" x2="437.5" y2="447.2" stroke="#000" stroke-width="1.7"/>
<line x1="474.1" y1="445.3" x2="474.1" y2="447.2" stroke="#000" stroke-width="1.7"/>
<line x1="510.7" y1="445.3" x2="510.7" y2="447.2" stroke="#000" stroke-width="1.7"/>
<line x1="547.3" y1="445.3" x2="547.3" y2="447.2" stroke="#000" stroke-width="1.7"/>
<text x="346" y="461.2" text-anchor="middle" class="tl" style="font-size:11.2px">0</text>
<text x="382.6" y="461.2" text-anchor="middle" class="tl" style="font-size:11.2px">100</text>
<text x="419.2" y="461.2" text-anchor="middle" class="tl" style="font-size:11.2px">200</text>
<text x="455.8" y="461.2" text-anchor="middle" class="tl" style="font-size:11.2px">300</text>
<text x="492.4" y="461.2" text-anchor="middle" class="tl" style="font-size:11.2px">400</text>
<text x="529" y="461.2" text-anchor="middle" class="tl" style="font-size:11.2px">500</text>
<text x="565.6" y="461.2" text-anchor="middle" class="tl" style="font-size:11.2px">600</text>
<line x1="342.7" y1="445.3" x2="338.7" y2="445.3" stroke="#000" stroke-width="1.7"/>
<line x1="342.7" y1="391.65" x2="338.7" y2="391.65" stroke="#000" stroke-width="1.7"/>
<line x1="342.7" y1="338" x2="338.7" y2="338" stroke="#000" stroke-width="1.7"/>
<line x1="342.7" y1="284.35" x2="338.7" y2="284.35" stroke="#000" stroke-width="1.7"/>
<line x1="342.7" y1="418.48" x2="340.8" y2="418.48" stroke="#000" stroke-width="1.7"/>
<line x1="342.7" y1="364.83" x2="340.8" y2="364.83" stroke="#000" stroke-width="1.7"/>
<line x1="342.7" y1="311.18" x2="340.8" y2="311.18" stroke="#000" stroke-width="1.7"/>
<line x1="342.7" y1="257.52" x2="340.8" y2="257.52" stroke="#000" stroke-width="1.7"/>
<text x="336" y="448.9" text-anchor="end" class="tl" style="font-size:11px">5200</text>
<text x="336" y="395.25" text-anchor="end" class="tl" style="font-size:11px">5250</text>
<text x="336" y="341.6" text-anchor="end" class="tl" style="font-size:11px">5300</text>
<text x="336" y="287.95" text-anchor="end" class="tl" style="font-size:11px">5350</text>
<clipPath id="clipd"><rect x="342.7" y="252.2" width="229.9" height="193.1"/></clipPath>
<path clip-path="url(#clipd)" d="M346.2,338.7 L346.6,351.26 L347,362.52 L347.4,372.61 L347.8,381.64 L348.2,389.74 L348.6,396.99 L349,403.49 L349.4,409.31 L349.8,414.53 L350.2,419.2 L350.6,423.39 L351,427.14 L351.4,430.5 L351.4,430.5 L351.88,409.67 L352.35,392.65 L352.83,378.76 L353.31,367.41 L353.78,358.14 L354.26,350.56 L354.74,344.38 L355.22,339.33 L355.69,335.2 L356.17,331.83 L356.65,329.08 L357.12,326.84 L357.6,325 L357.6,325 L358,337.84 L358.4,349.34 L358.8,359.65 L359.2,368.88 L359.6,377.15 L360,384.56 L360.4,391.2 L360.8,397.15 L361.2,402.48 L361.6,407.25 L362,411.53 L362.4,415.37 L362.8,418.8 L362.8,418.8 L363.25,397.95 L363.69,380.92 L364.14,367.01 L364.58,355.65 L365.03,346.37 L365.48,338.79 L365.92,332.6 L366.37,327.54 L366.82,323.41 L367.26,320.04 L367.71,317.29 L368.15,315.04 L368.6,313.2 L368.6,313.2 L369.03,326.35 L369.46,338.14 L369.89,348.7 L370.32,358.15 L370.75,366.63 L371.18,374.22 L371.62,381.02 L372.05,387.12 L372.48,392.58 L372.91,397.47 L373.34,401.85 L373.77,405.78 L374.2,409.3 L374.2,409.3 L374.63,390.21 L375.06,374.61 L375.49,361.87 L375.92,351.47 L376.35,342.97 L376.78,336.03 L377.22,330.36 L377.65,325.73 L378.08,321.95 L378.51,318.86 L378.94,316.34 L379.37,314.28 L379.8,312.6 L379.8,312.6 L380.25,326.29 L380.69,338.55 L381.14,349.54 L381.58,359.38 L382.03,368.2 L382.48,376.1 L382.92,383.18 L383.37,389.52 L383.82,395.2 L384.26,400.29 L384.71,404.85 L385.15,408.94 L385.6,412.6 L385.6,412.6 L386.03,392.85 L386.46,376.73 L386.89,363.55 L387.32,352.79 L387.75,344.01 L388.18,336.83 L388.62,330.97 L389.05,326.18 L389.48,322.27 L389.91,319.08 L390.34,316.47 L390.77,314.34 L391.2,312.6 L391.2,312.6 L391.65,326.26 L392.09,338.5 L392.54,349.46 L392.98,359.29 L393.43,368.09 L393.88,375.97 L394.32,383.04 L394.77,389.37 L395.22,395.04 L395.66,400.12 L396.11,404.67 L396.55,408.75 L397,412.4 L397,412.4 L397.44,391.98 L397.88,375.31 L398.32,361.69 L398.75,350.56 L399.19,341.48 L399.63,334.05 L400.07,327.99 L400.51,323.04 L400.95,319 L401.38,315.7 L401.82,313 L402.26,310.8 L402.7,309 L402.7,309 L403.11,321.32 L403.52,332.35 L403.92,342.24 L404.33,351.1 L404.74,359.04 L405.15,366.15 L405.55,372.52 L405.96,378.23 L406.37,383.34 L406.78,387.92 L407.18,392.03 L407.59,395.71 L408,399 L408,399 L408.46,379.31 L408.92,363.23 L409.38,350.1 L409.85,339.37 L410.31,330.61 L410.77,323.46 L411.23,317.61 L411.69,312.84 L412.15,308.94 L412.62,305.76 L413.08,303.16 L413.54,301.03 L414,299.3 L414,299.3 L414.42,312.45 L414.85,324.24 L415.27,334.8 L415.69,344.25 L416.12,352.73 L416.54,360.32 L416.96,367.12 L417.38,373.22 L417.81,378.68 L418.23,383.57 L418.65,387.95 L419.08,391.88 L419.5,395.4 L419.5,395.4 L419.96,375.18 L420.42,358.66 L420.88,345.18 L421.35,334.16 L421.81,325.16 L422.27,317.81 L422.73,311.81 L423.19,306.91 L423.65,302.9 L424.12,299.63 L424.58,296.96 L425.04,294.78 L425.5,293 L425.5,293 L425.9,306.39 L426.3,318.38 L426.7,329.12 L427.1,338.75 L427.5,347.37 L427.9,355.1 L428.3,362.02 L428.7,368.23 L429.1,373.78 L429.5,378.76 L429.9,383.22 L430.3,387.22 L430.7,390.8 L430.7,390.8 L431.15,370.36 L431.59,353.67 L432.04,340.04 L432.48,328.9 L432.93,319.81 L433.38,312.38 L433.82,306.31 L434.27,301.36 L434.72,297.31 L435.16,294.01 L435.61,291.31 L436.05,289.1 L436.5,287.3 L436.5,287.3 L436.92,300.89 L437.35,313.07 L437.77,323.98 L438.19,333.75 L438.62,342.51 L439.04,350.35 L439.46,357.38 L439.88,363.68 L440.31,369.32 L440.73,374.38 L441.15,378.91 L441.58,382.96 L442,386.6 L442,386.6 L442.45,367.88 L442.91,352.59 L443.36,340.1 L443.82,329.9 L444.27,321.57 L444.72,314.77 L445.18,309.21 L445.63,304.68 L446.08,300.97 L446.54,297.94 L446.99,295.47 L447.45,293.45 L447.9,291.8 L447.9,291.8 L448.33,306.83 L448.76,320.29 L449.19,332.36 L449.62,343.16 L450.05,352.85 L450.48,361.52 L450.92,369.29 L451.35,376.26 L451.78,382.5 L452.21,388.09 L452.64,393.09 L453.07,397.58 L453.5,401.6 L453.5,401.6 L453.97,381.97 L454.44,365.94 L454.91,352.85 L455.38,342.15 L455.85,333.42 L456.32,326.29 L456.78,320.46 L457.25,315.7 L457.72,311.81 L458.19,308.64 L458.66,306.05 L459.13,303.93 L459.6,302.2 L459.6,302.2 L460,316.41 L460.4,329.14 L460.8,340.54 L461.2,350.76 L461.6,359.91 L462,368.11 L462.4,375.46 L462.8,382.04 L463.2,387.94 L463.6,393.22 L464,397.96 L464.4,402.2 L464.8,406 L464.8,406 L465.25,386.77 L465.69,371.06 L466.14,358.23 L466.58,347.75 L467.03,339.19 L467.48,332.2 L467.92,326.49 L468.37,321.83 L468.82,318.02 L469.26,314.91 L469.71,312.37 L470.15,310.29 L470.6,308.6 L470.6,308.6 L471.03,322.62 L471.46,335.17 L471.89,346.42 L472.32,356.5 L472.75,365.53 L473.18,373.62 L473.62,380.87 L474.05,387.36 L474.48,393.18 L474.91,398.4 L475.34,403.07 L475.77,407.25 L476.2,411 L476.2,411 L476.65,390.33 L477.09,373.44 L477.54,359.65 L477.98,348.38 L478.43,339.18 L478.88,331.67 L479.32,325.53 L479.77,320.52 L480.22,316.43 L480.66,313.08 L481.11,310.35 L481.55,308.12 L482,306.3 L482,306.3 L482.43,320.14 L482.86,332.53 L483.29,343.64 L483.72,353.59 L484.15,362.51 L484.58,370.5 L485.02,377.65 L485.45,384.07 L485.88,389.81 L486.31,394.96 L486.74,399.57 L487.17,403.7 L487.6,407.4 L487.6,407.4 L488.05,386.25 L488.49,368.98 L488.94,354.87 L489.38,343.35 L489.83,333.94 L490.28,326.25 L490.72,319.97 L491.17,314.85 L491.62,310.66 L492.06,307.24 L492.51,304.44 L492.95,302.16 L493.4,300.3 L493.4,300.3 L493.82,314.25 L494.23,326.74 L494.65,337.94 L495.06,347.97 L495.48,356.95 L495.89,365 L496.31,372.22 L496.72,378.68 L497.14,384.47 L497.55,389.66 L497.97,394.31 L498.38,398.47 L498.8,402.2 L498.8,402.2 L499.23,381.35 L499.66,364.32 L500.09,350.41 L500.52,339.05 L500.95,329.77 L501.38,322.19 L501.82,316 L502.25,310.94 L502.68,306.81 L503.11,303.44 L503.54,300.69 L503.97,298.44 L504.4,296.6 L504.4,296.6 L504.83,311.05 L505.26,324 L505.69,335.6 L506.12,346 L506.55,355.31 L506.98,363.65 L507.42,371.13 L507.85,377.83 L508.28,383.83 L508.71,389.2 L509.14,394.02 L509.57,398.33 L510,402.2 L510,402.2 L510.45,382.08 L510.89,365.64 L511.34,352.22 L511.78,341.26 L512.23,332.3 L512.68,324.99 L513.12,319.02 L513.57,314.14 L514.02,310.16 L514.46,306.9 L514.91,304.24 L515.35,302.07 L515.8,300.3 L515.8,300.3 L516.23,315.04 L516.66,328.25 L517.09,340.08 L517.52,350.68 L517.95,360.18 L518.38,368.69 L518.82,376.31 L519.25,383.14 L519.68,389.26 L520.11,394.74 L520.54,399.66 L520.97,404.06 L521.4,408 L521.4,408 L521.83,387.35 L522.26,370.48 L522.69,356.7 L523.12,345.44 L523.55,336.25 L523.98,328.75 L524.42,322.61 L524.85,317.61 L525.28,313.52 L525.71,310.18 L526.14,307.45 L526.57,305.22 L527,303.4 L527,303.4 L527.45,318.29 L527.89,331.63 L528.34,343.59 L528.78,354.3 L529.23,363.89 L529.68,372.49 L530.12,380.19 L530.57,387.09 L531.02,393.27 L531.46,398.81 L531.91,403.77 L532.35,408.22 L532.8,412.2 L532.8,412.2 L533.25,390.72 L533.69,373.17 L534.14,358.84 L534.58,347.13 L535.03,337.57 L535.48,329.76 L535.92,323.39 L536.37,318.18 L536.82,313.92 L537.26,310.45 L537.71,307.61 L538.15,305.29 L538.6,303.4 L538.6,303.4 L539,317.92 L539.4,330.93 L539.8,342.59 L540.2,353.03 L540.6,362.39 L541,370.77 L541.4,378.28 L541.8,385.01 L542.2,391.04 L542.6,396.44 L543,401.28 L543.4,405.62 L543.8,409.5 L543.8,409.5 L544.26,387.21 L544.72,369 L545.18,354.13 L545.65,341.98 L546.11,332.06 L546.57,323.96 L547.03,317.34 L547.49,311.93 L547.95,307.52 L548.42,303.91 L548.88,300.97 L549.34,298.56 L549.8,296.6 L549.8,296.6 L550.22,311.85 L550.63,325.51 L551.05,337.75 L551.46,348.71 L551.88,358.54 L552.29,367.34 L552.71,375.22 L553.12,382.29 L553.54,388.62 L553.95,394.29 L554.37,399.37 L554.78,403.92 L555.2,408 L555.2,408 L555.66,386.69 L556.12,369.29 L556.58,355.08 L557.05,343.47 L557.51,333.99 L557.97,326.25 L558.43,319.92 L558.89,314.76 L559.35,310.54 L559.82,307.09 L560.28,304.28 L560.74,301.98 L561.2,300.1 L561.2,300.1 L561.62,314.65 L562.03,327.68 L562.45,339.36 L562.86,349.83 L563.28,359.2 L563.69,367.6 L564.11,375.12 L564.52,381.86 L564.94,387.9 L565.35,393.32 L565.77,398.16 L566.18,402.51 L566.6,406.4 L566.6,406.4 L567.14,385.09 L567.68,367.69 L568.22,353.48 L568.75,341.87 L569.29,332.39 L569.83,324.65 L570.37,318.32 L570.91,313.16 L571.45,308.94 L571.98,305.49 L572.52,302.68 L573.06,300.38 L573.6,298.5" fill="none" stroke="#ea1420" stroke-width="1.7" stroke-linejoin="round"/>
<text x="348.3" y="273.6" class="pl">d)</text>
<text x="426.5" y="479.3" class="cjk" style="font-size:13.3px">时间（<tspan dx="1">分</tspan>钟<tspan dx="1.9">）</tspan></text>
<text transform="translate(301.2,376.1) rotate(-90)" x="0" y="0" dominant-baseline="central" class="cjk" style="font-size:13.8px;font-weight:400" fill="#000">导电率<tspan class="b" dx="4.7" dy="0" style="font-size:14px">(μS cm<tspan dy="-5.5" style="font-size:8px">-1</tspan><tspan dy="5.5">)</tspan></tspan></text>
</svg>
</body></html>
